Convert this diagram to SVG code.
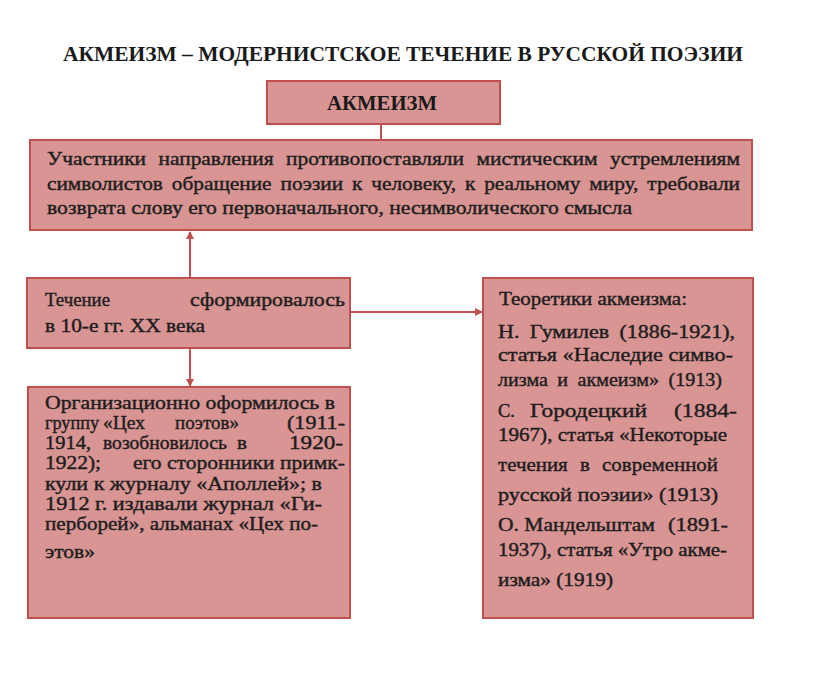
<svg xmlns="http://www.w3.org/2000/svg" width="816" height="686" viewBox="0 0 816 686">
<style>
.box{fill:#d99594;stroke:#c0504d;stroke-width:2}
.t{font-family:'Liberation Serif','DejaVu Serif','Times New Roman',serif;font-size:18px;fill:#1e1e1e;stroke:#1e1e1e;stroke-width:0.4}
.h{font-family:'Liberation Serif','DejaVu Serif','Times New Roman',serif;font-weight:bold;fill:#1a1a1a}
.c{stroke:#c0504d;stroke-width:2;fill:none}
</style>
<defs>
<marker id="ar" viewBox="0 0 8 8" refX="7" refY="4" markerWidth="8" markerHeight="8" markerUnits="userSpaceOnUse" orient="auto">
<path d="M0,0 L8,4 L0,8 Z" fill="#c0504d"/>
</marker>
</defs>
<rect width="816" height="686" fill="#fff"/>
<text class="h" x="63" y="61" font-size="21" textLength="680" lengthAdjust="spacingAndGlyphs">АКМЕИЗМ – МОДЕРНИСТСКОЕ ТЕЧЕНИЕ  В РУССКОЙ ПОЭЗИИ</text>

<g id="connectors">
<line class="c" x1="381" y1="124" x2="381" y2="140"/>
<line class="c" x1="190" y1="278" x2="190" y2="232" marker-end="url(#ar)"/>
<line class="c" x1="190" y1="348" x2="190" y2="386" marker-end="url(#ar)"/>
<line class="c" x1="350" y1="312" x2="482" y2="312" marker-end="url(#ar)"/>
</g>

<g id="akmeizm">
<rect class="box" x="267" y="81" width="233" height="43"/>
<text class="h" x="327" y="110" font-size="20" textLength="110" lengthAdjust="spacingAndGlyphs">АКМЕИЗМ</text>
</g>

<g id="main">
<rect class="box" x="30" y="140" width="722" height="90"/>
<text class="t" x="47" y="165" word-spacing="6" textLength="693" lengthAdjust="spacingAndGlyphs">Участники направления противопоставляли мистическим устремлениям</text>
<text class="t" x="47" y="190" word-spacing="3" textLength="693" lengthAdjust="spacingAndGlyphs">символистов обращение поэзии к человеку, к реальному миру, требовали</text>
<text class="t" x="47" y="214" textLength="585" lengthAdjust="spacingAndGlyphs">возврата слову его первоначального, несимволического смысла</text>
</g>

<g id="formed">
<rect class="box" x="27" y="278" width="323" height="70"/>
<text class="t" x="45" y="306" textLength="65" lengthAdjust="spacingAndGlyphs">Течение</text>
<text class="t" x="190" y="306" textLength="155" lengthAdjust="spacingAndGlyphs">сформировалось</text>
<text class="t" x="45" y="332" textLength="160" lengthAdjust="spacingAndGlyphs">в 10-е гг. XX века</text>
</g>

<g id="org">
<rect class="box" x="28" y="387" width="322" height="231"/>
<text class="t" x="45" y="409" textLength="290" lengthAdjust="spacingAndGlyphs">Организационно оформилось в</text>
<text class="t" x="45" y="429" textLength="54" lengthAdjust="spacingAndGlyphs">группу</text>
<text class="t" x="103" y="429" textLength="42" lengthAdjust="spacingAndGlyphs">«Цех</text>
<text class="t" x="175" y="429" textLength="64" lengthAdjust="spacingAndGlyphs">поэтов»</text>
<text class="t" x="287" y="429" textLength="58" lengthAdjust="spacingAndGlyphs">(1911-</text>
<text class="t" x="45" y="449" textLength="46" lengthAdjust="spacingAndGlyphs">1914,</text>
<text class="t" x="103" y="449" textLength="124" lengthAdjust="spacingAndGlyphs">возобновилось</text>
<text class="t" x="237" y="449" textLength="10" lengthAdjust="spacingAndGlyphs">в</text>
<text class="t" x="289" y="449" textLength="54" lengthAdjust="spacingAndGlyphs">1920-</text>
<text class="t" x="45" y="469" textLength="56" lengthAdjust="spacingAndGlyphs">1922);</text>
<text class="t" x="133" y="469" textLength="212" lengthAdjust="spacingAndGlyphs">его сторонники примк-</text>
<text class="t" x="45" y="490" textLength="277" lengthAdjust="spacingAndGlyphs">кули к журналу «Аполлей»; в</text>
<text class="t" x="45" y="510" textLength="277" lengthAdjust="spacingAndGlyphs">1912 г. издавали журнал «Ги-</text>
<text class="t" x="45" y="530" textLength="273" lengthAdjust="spacingAndGlyphs">перборей», альманах «Цех по-</text>
<text class="t" x="45" y="558" textLength="50" lengthAdjust="spacingAndGlyphs">этов»</text>
</g>

<g id="theorists">
<rect class="box" x="483" y="278" width="270" height="340"/>
<text class="t" x="499" y="305" textLength="188" lengthAdjust="spacingAndGlyphs">Теоретики акмеизма:</text>
<text class="t" x="498" y="338" word-spacing="4" textLength="237" lengthAdjust="spacingAndGlyphs">Н. Гумилев (1886-1921),</text>
<text class="t" x="498" y="361" textLength="235" lengthAdjust="spacingAndGlyphs">статья «Наследие симво-</text>
<text class="t" x="498" y="386" word-spacing="4" textLength="224" lengthAdjust="spacingAndGlyphs">лизма и акмеизм» (1913)</text>
<text class="t" x="498" y="417" textLength="17" lengthAdjust="spacingAndGlyphs">С.</text>
<text class="t" x="530" y="417" textLength="117" lengthAdjust="spacingAndGlyphs">Городецкий</text>
<text class="t" x="674" y="417" textLength="63" lengthAdjust="spacingAndGlyphs">(1884-</text>
<text class="t" x="498" y="441" textLength="229" lengthAdjust="spacingAndGlyphs">1967), статья «Некоторые</text>
<text class="t" x="498" y="471" word-spacing="6" textLength="220" lengthAdjust="spacingAndGlyphs">течения в современной</text>
<text class="t" x="498" y="501" textLength="220" lengthAdjust="spacingAndGlyphs">русской поэзии» (1913)</text>
<text class="t" x="498" y="531" textLength="157" lengthAdjust="spacingAndGlyphs">О. Мандельштам</text>
<text class="t" x="668" y="531" textLength="60" lengthAdjust="spacingAndGlyphs">(1891-</text>
<text class="t" x="498" y="556" textLength="229" lengthAdjust="spacingAndGlyphs">1937), статья «Утро акме-</text>
<text class="t" x="498" y="586" textLength="115" lengthAdjust="spacingAndGlyphs">изма» (1919)</text>
</g>
</svg>
